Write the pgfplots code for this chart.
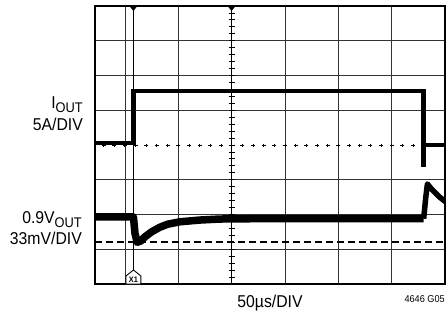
\documentclass[border=0pt]{standalone}
\usepackage{pgfplots}
\pgfplotsset{compat=1.18}
\usepackage{fontspec}
\setmainfont{Liberation Sans}[FakeStretch=0.92]
\begin{document}
\begin{tikzpicture}[x=1bp,y=1bp]
\path[use as bounding box] (0,0) rectangle (446,314);
\begin{axis}[
  at={(95bp,30bp)}, anchor=south west,
  scale only axis, width=350bp, height=278bp,
  xmin=-2.56, xmax=4, ymin=-4, ymax=4,
  xtick={-2,-1,1,2,3}, ytick={-3,-2,-1,1,2,3},
  xticklabels={}, yticklabels={},
  major tick length=0pt,
  grid=major,
  major grid style={black!80, line width=0.7bp},
  axis line style={black, line width=1.3bp},
  clip=true,
]
% center graticule lines
\draw[black, line width=1.3bp] (axis cs:0,-4) -- (axis cs:0,4);
\pgfplotsinvokeforeach{-3.8,-3.6,...,3.9}{
  \draw[black, line width=0.9bp] ([xshift=-3bp]axis cs:0,#1) -- ([xshift=3bp]axis cs:0,#1);
}
\pgfplotsinvokeforeach{-2.4,-2.2,...,3.9}{
  \draw[black, line width=1bp] ([xshift=-2bp]axis cs:#1,0) -- ([xshift=2bp]axis cs:#1,0);
  \draw[black, line width=0.8bp] ([yshift=-1.5bp]axis cs:#1,0) -- ([yshift=1.5bp]axis cs:#1,0);
}
% cursor dashed line
\draw[black, line width=1.1bp, dash pattern=on 7bp off 4bp] (axis cs:-2.56,-2.79) -- (axis cs:4,-2.79);
% IOUT trace
\addplot[black, line width=4.4bp, line join=miter] coordinates {
  (-2.56,0.05) (-1.84,0.05) (-1.84,1.55) (3.60,1.55) (3.60,-0.63) (3.60,0.0) (4.0,0.0)
};
% VOUT trace
\addplot[black, line width=7.5bp, line join=round] coordinates {
  (-2.56,-2.07) (-1.84,-2.07) (-1.81,-2.55) (-1.77,-2.80) (-1.70,-2.76)
  (-1.63,-2.65) (-1.50,-2.50) (-1.35,-2.37) (-1.20,-2.28) (-0.97,-2.21)
  (-0.60,-2.16) (-0.22,-2.13) (0.5,-2.12) (3.60,-2.12)
};
\addplot[black, line width=5.5bp, line join=round] coordinates {
  (3.60,-2.12) (3.64,-1.5) (3.67,-1.12) (3.72,-1.22) (3.80,-1.35) (3.90,-1.50) (4.05,-1.68)
};
% cursor line
\draw[black, line width=1.6bp] (axis cs:-1.84,4) -- ([yshift=14bp]axis cs:-1.84,-4);
% top markers
\fill[black] ([xshift=-4bp]axis cs:-1.84,4) -- ([xshift=4bp]axis cs:-1.84,4) -- ([yshift=-5bp]axis cs:-1.84,4) -- cycle;
\fill[black] ([xshift=-4bp]axis cs:0,4) -- ([xshift=4bp]axis cs:0,4) -- ([yshift=-5bp]axis cs:0,4) -- cycle;
% X1 marker
\draw[black, fill=white, line width=0.9bp]
  ([xshift=-7.5bp]axis cs:-1.84,-4) -- ([xshift=-7.5bp,yshift=8bp]axis cs:-1.84,-4)
  -- ([yshift=14bp]axis cs:-1.84,-4) -- ([xshift=7.5bp,yshift=8bp]axis cs:-1.84,-4)
  -- ([xshift=7.5bp]axis cs:-1.84,-4) -- cycle;
\node[font=\fontsize{8}{9}\selectfont\bfseries, inner sep=0pt, anchor=base] at ([yshift=1.5bp]axis cs:-1.84,-4) {X1};
\end{axis}
% labels
\node[anchor=base east, inner sep=0pt, font=\fontsize{17.2}{18}\selectfont] at (83,205.5) {I\raisebox{-4.4bp}{\fontsize{14}{15}\selectfont OUT}};
\node[anchor=base east, inner sep=0pt, font=\fontsize{17.2}{18}\selectfont] at (83,183.3) {5A/DIV};
\node[anchor=base east, inner sep=0pt, font=\fontsize{17.2}{18}\selectfont] at (82,90.5) {0.9V\raisebox{-3.5bp}{\fontsize{14}{15}\selectfont OUT}};
\node[anchor=base east, inner sep=0pt, font=\fontsize{17.2}{18}\selectfont] at (82,70) {33mV/DIV};
\node[anchor=base, inner sep=0pt, font=\fontsize{17.2}{18}\selectfont] at (270,7) {50µs/DIV};
\node[anchor=base east, inner sep=0pt, font=\fontsize{10}{12}\selectfont] at (445,11.5) {4646 G05};
\end{tikzpicture}
\end{document}
